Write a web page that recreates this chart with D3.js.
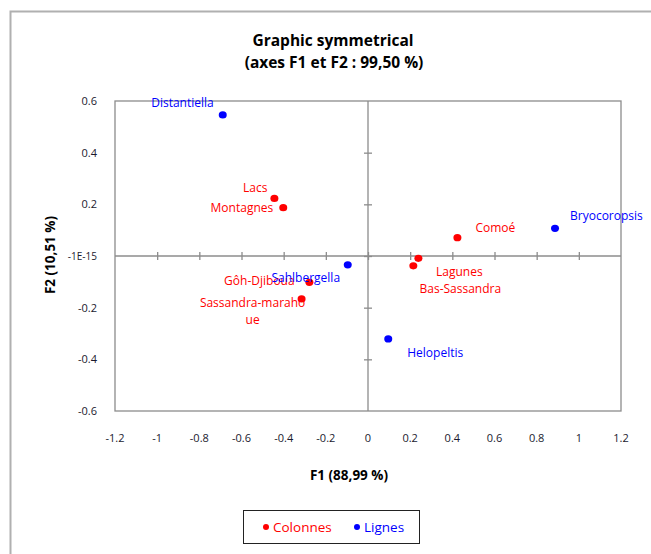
<!DOCTYPE html>
<html>
<head>
<meta charset="utf-8">
<script src="https://cdn.jsdelivr.net/npm/d3@7"></script>
<style>
  body { margin: 0; background: #fff; }
  text { font-family: "Open Sans", "Liberation Sans", Arial, sans-serif; }
</style>
</head>
<body>
<div id="chart"></div>
<script>
// data
const colNames = ['Lacs', 'Montagnes', 'Gôh-Djiboua', 'Sassandra-marahoue', 'Comoé', 'Lagunes', 'Bas-Sassandra'];
const colF1 = [-0.444, -0.402, -0.278, -0.315, 0.424, 0.239, 0.215];
const colF2 = [0.223, 0.187, -0.102, -0.166, 0.071, -0.009, -0.038];

const rowNames = ['Distantiella', 'Sahlbergella', 'Bryocoropsis', 'Helopeltis'];
const rowF1 = [-0.689, -0.096, 0.887, 0.096];
const rowF2 = [0.546, -0.034, 0.107, -0.321];

const xTicks = [-1.2, -1, -0.8, -0.6, -0.4, -0.2, 0, 0.2, 0.4, 0.6, 0.8, 1, 1.2];
const yTicks = [-0.6, -0.4, -0.2, 0, 0.2, 0.4, 0.6];

const width = 651, height = 554;
const svg = d3.select('#chart').append('svg')
  .attr('width', width)
  .attr('height', height);

// outer chart frame (only top/left visible)
svg.append('rect')
  .attr('x', 10.5).attr('y', 11.5)
  .attr('width', 660).attr('height', 560)
  .attr('fill', 'none')
  .attr('stroke', '#b0b0b0')
  .attr('stroke-width', 2);

const x = d3.scaleLinear().domain([-1.2, 1.2]).range([115, 621]);
const y = d3.scaleLinear().domain([-0.6, 0.6]).range([411, 101]);

const axisColor = '#8c8c8c';

// title
svg.append('text').attr('x', 333).attr('y', 46)
  .attr('text-anchor', 'middle').attr('font-weight', 'bold').attr('font-size', 15.5)
  .text('Graphic symmetrical');
svg.append('text').attr('x', 334).attr('y', 68)
  .attr('text-anchor', 'middle').attr('font-weight', 'bold').attr('font-size', 15.5)
  .text('(axes F1 et F2 : 99,50 %)');

// plot frame
svg.append('rect')
  .attr('x', x(-1.2)).attr('y', y(0.6))
  .attr('width', x(1.2) - x(-1.2)).attr('height', y(-0.6) - y(0.6))
  .attr('fill', 'none').attr('stroke', axisColor).attr('stroke-width', 1.3);

// zero axes with crossing ticks
const xAxis = d3.axisBottom(x).tickValues(xTicks.filter(d => Math.abs(d) < 1.2)).tickSize(8).tickFormat('');
svg.append('g').attr('transform', `translate(0,${y(0) - 4})`).call(xAxis)
  .call(g => g.select('.domain').remove())
  .selectAll('line').attr('stroke', axisColor).attr('stroke-width', 1.3);
svg.append('line')
  .attr('x1', x(-1.2)).attr('x2', x(1.2)).attr('y1', y(0)).attr('y2', y(0))
  .attr('stroke', axisColor).attr('stroke-width', 1.3);

const yAxis = d3.axisLeft(y).tickValues(yTicks.filter(d => Math.abs(d) < 0.6)).tickSize(8).tickFormat('');
svg.append('g').attr('transform', `translate(${x(0) + 4},0)`).call(yAxis)
  .call(g => g.select('.domain').remove())
  .selectAll('line').attr('stroke', axisColor).attr('stroke-width', 1.3);
svg.append('line')
  .attr('x1', x(0)).attr('x2', x(0)).attr('y1', y(0.6)).attr('y2', y(-0.6))
  .attr('stroke', axisColor).attr('stroke-width', 1.3);

// tick labels (plain hyphen minus like the original)
const tickColor = '#1a1a2e';
const fmt = (f) => (d) => f(d).replace('\u2212', '-');
svg.append('g').selectAll('text').data(xTicks).join('text')
  .attr('x', d => x(d)).attr('y', 442)
  .attr('text-anchor', 'middle').attr('font-size', 11).attr('fill', tickColor)
  .text(fmt(d3.format('')));
svg.append('g').selectAll('text').data(yTicks).join('text')
  .attr('x', 97).attr('y', d => y(d) + 4)
  .attr('text-anchor', 'end').attr('font-size', d => d === 0 ? 10 : 11).attr('fill', tickColor)
  .text(d => d === 0 ? '-1E-15' : fmt(d3.format('.1f'))(d));

// axis titles
svg.append('text').attr('x', 349).attr('y', 480)
  .attr('text-anchor', 'middle').attr('font-weight', 'bold').attr('font-size', 13.5)
  .text('F1 (88,99 %)');
svg.append('text').attr('transform', `translate(55,255) rotate(-90)`)
  .attr('text-anchor', 'middle').attr('font-weight', 'bold').attr('font-size', 13.5)
  .text('F2 (10,51 %)');

// label offsets (dx, dy, anchor) relative to each point
const colLabelPos = [[-7, -10, 'end'], [-10, 0, 'end'], [-50, -1, 'middle'], [-49, 4, 'middle'], [18, -10, 'start'], [41, 14, 'middle'], [47, 23, 'middle']];
const rowLabelPos = [[-9, -12, 'end'], [-42, 13, 'middle'], [15, -12, 'start'], [19, 14, 'start']];

const cols = colNames.map((n, i) => ({ name: n, f1: colF1[i], f2: colF2[i], pos: colLabelPos[i] }));
const rows = rowNames.map((n, i) => ({ name: n, f1: rowF1[i], f2: rowF2[i], pos: rowLabelPos[i] }));

function drawSeries(data, color) {
  const g = svg.append('g');
  g.selectAll('ellipse').data(data).join('ellipse')
    .attr('cx', d => x(d.f1)).attr('cy', d => y(d.f2))
    .attr('rx', 4).attr('ry', 3.6)
    .attr('fill', color);
  g.selectAll('text').data(data).join('text')
    .attr('x', d => x(d.f1) + d.pos[0])
    .attr('y', d => y(d.f2) + d.pos[1] + 4)
    .attr('text-anchor', d => d.pos[2])
    .attr('font-size', 12).attr('fill', color)
    .each(function (d) {
      const t = d3.select(this);
      if (d.name === 'Sassandra-marahoue') {
        t.append('tspan').attr('x', x(d.f1) + d.pos[0]).text('Sassandra-maraho');
        t.append('tspan').attr('x', x(d.f1) + d.pos[0]).attr('dy', 17).text('ue');
      } else {
        t.text(d.name);
      }
    });
}
drawSeries(cols, '#ff0000');
drawSeries(rows, '#0000ff');

// legend
const leg = svg.append('g');
leg.append('rect').attr('x', 243.5).attr('y', 510.5).attr('width', 176).attr('height', 33)
  .attr('fill', '#fff').attr('stroke', '#222').attr('stroke-width', 1);
const legItems = [{ name: 'Colonnes', color: '#ff0000', x: 266 }, { name: 'Lignes', color: '#0000ff', x: 357 }];
leg.selectAll('circle').data(legItems).join('circle')
  .attr('cx', d => d.x).attr('cy', 527).attr('r', 3).attr('fill', d => d.color);
leg.selectAll('text').data(legItems).join('text')
  .attr('x', d => d.x + 7).attr('y', 531.5)
  .attr('font-size', 13.5).attr('fill', d => d.color)
  .text(d => d.name);
</script>
</body>
</html>
